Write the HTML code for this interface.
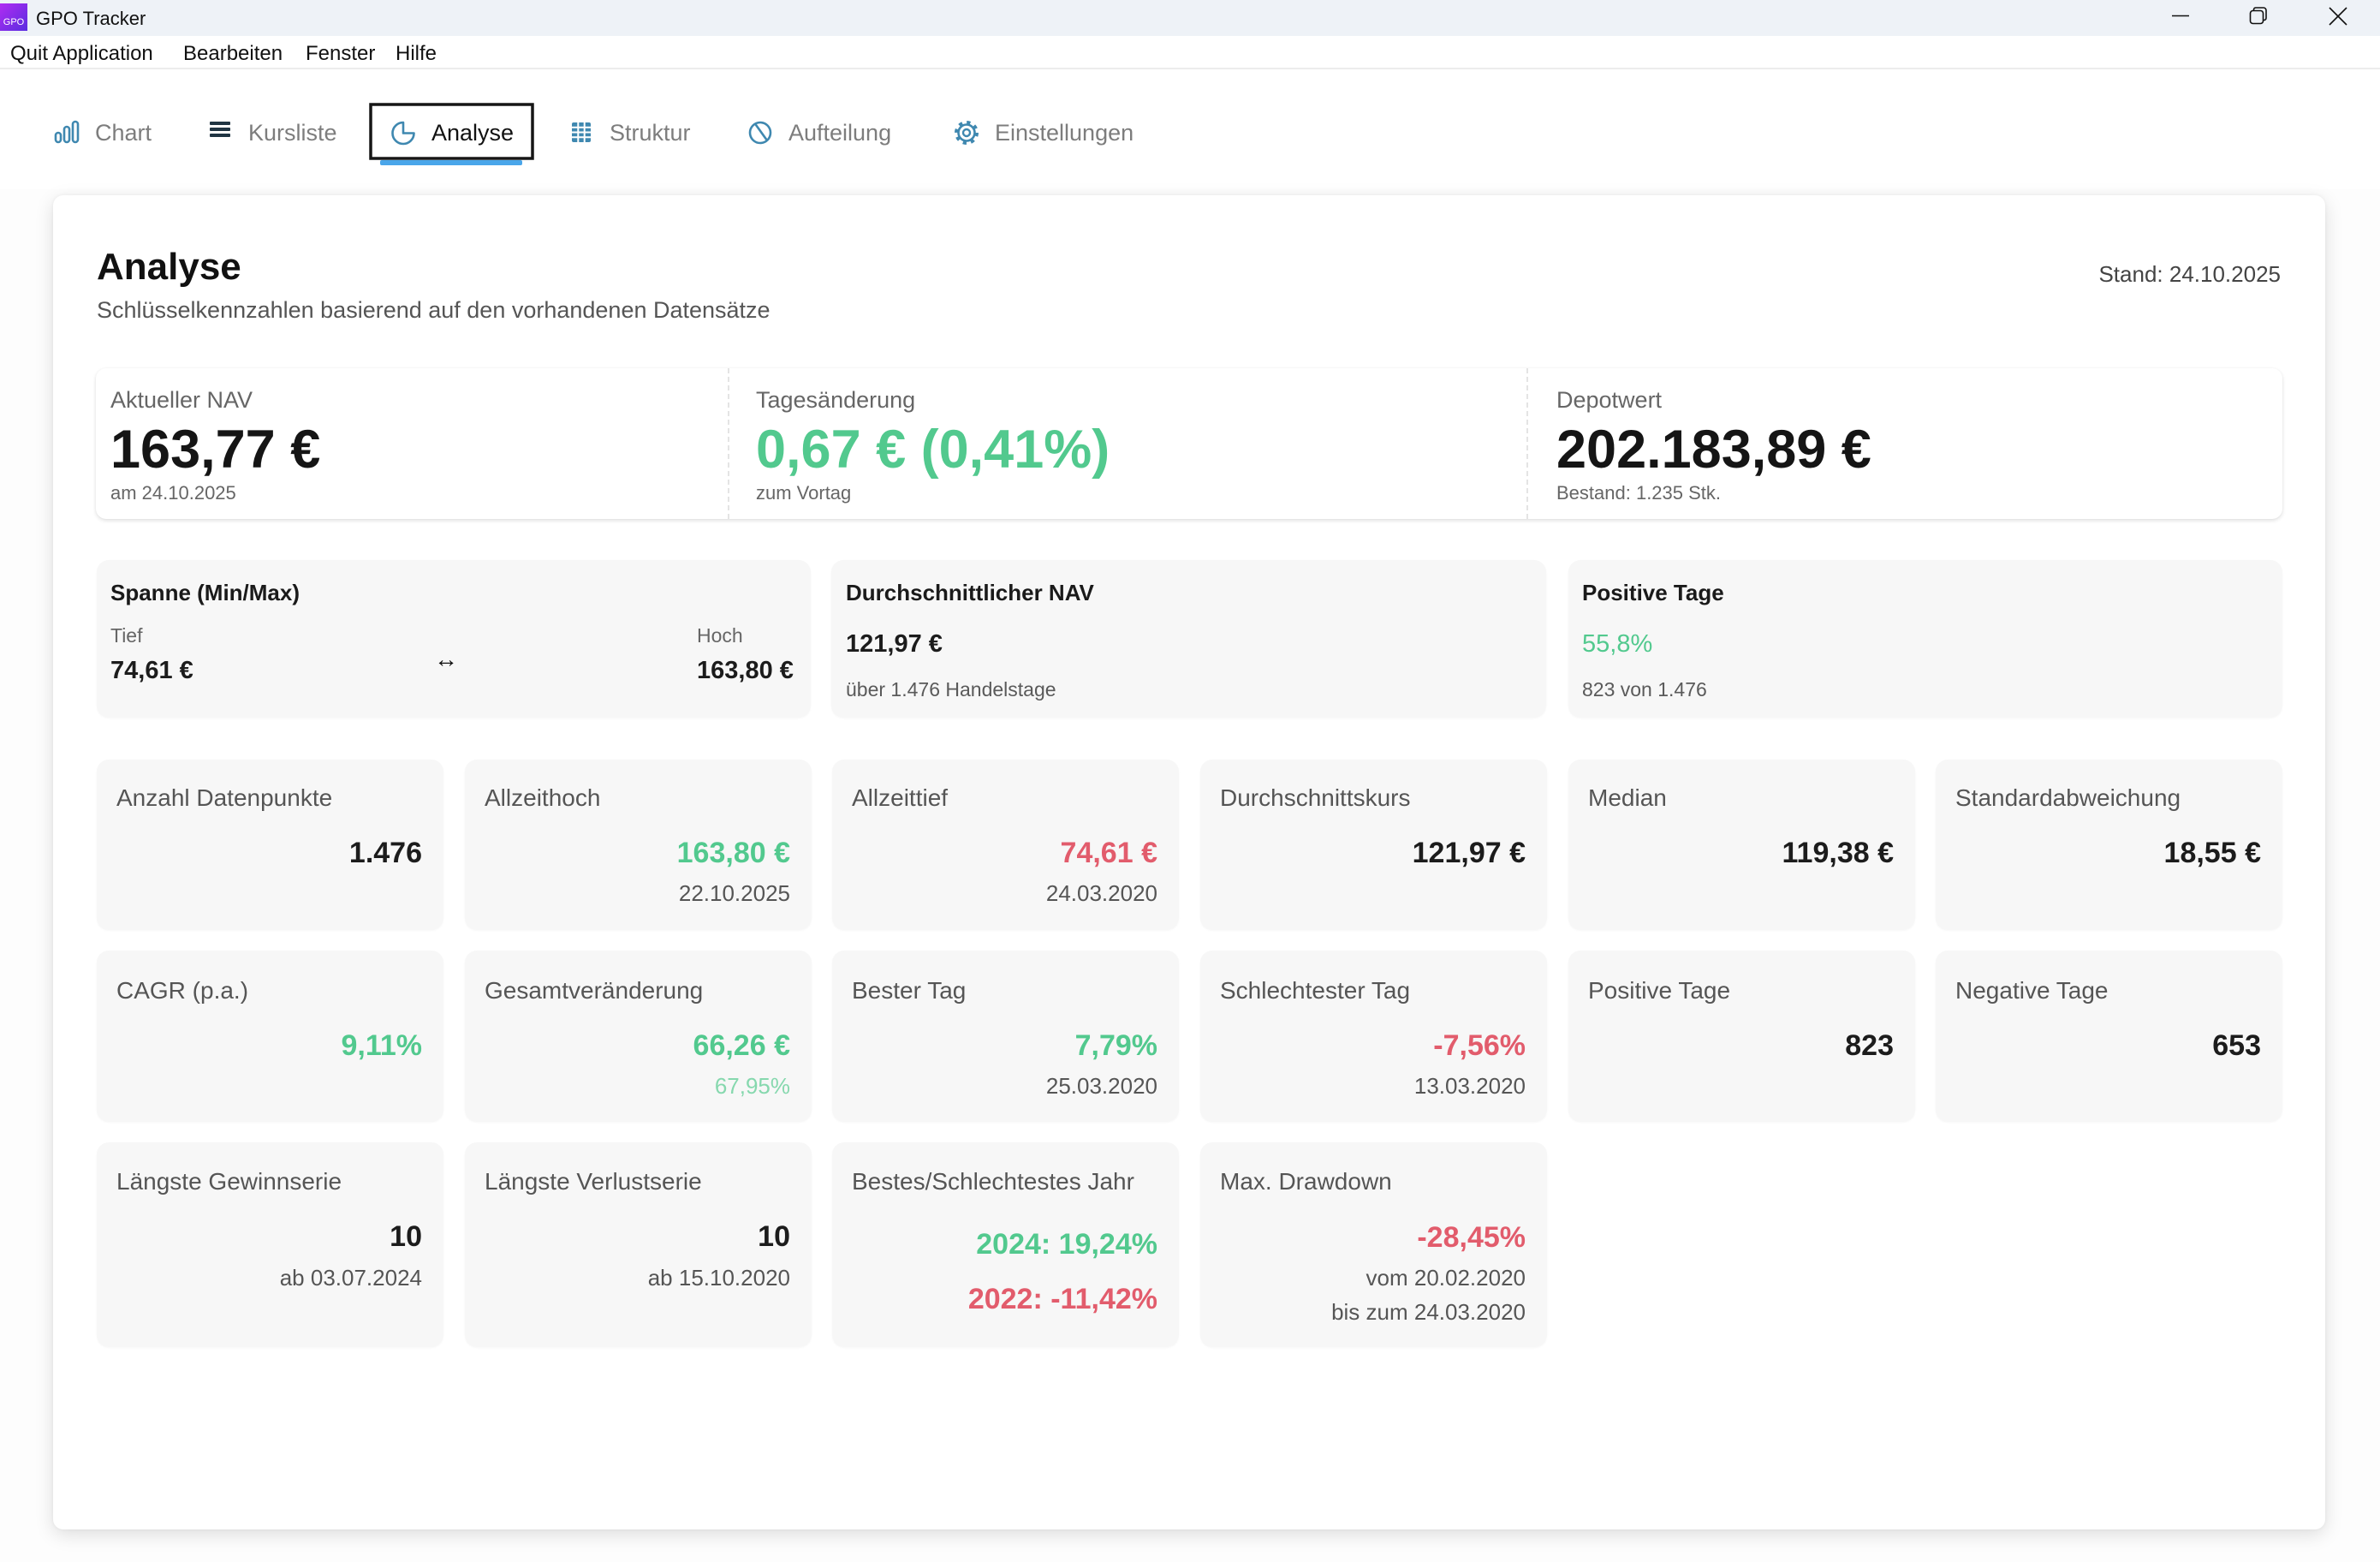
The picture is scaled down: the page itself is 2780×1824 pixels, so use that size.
<!DOCTYPE html>
<html>
<head>
<meta charset="utf-8">
<style>
  html,body{margin:0;padding:0;}
  body{width:2780px;height:1824px;position:relative;overflow:hidden;background:#fdfdfd;font-family:"Liberation Sans",sans-serif;color:#111;}
  .abs{position:absolute;white-space:nowrap;}
  #titlebar{position:absolute;left:0;top:0;width:2780px;height:42px;background:#eef2f7;}
  #menubar{position:absolute;left:0;top:42px;width:2780px;height:37px;background:#fff;border-bottom:2px solid #ececec;}
  #tabzone{position:absolute;left:0;top:81px;width:2780px;height:140px;background:#fff;}
  .menu{position:absolute;top:51px;font-size:24px;line-height:24px;color:#111;}
  .tab{position:absolute;top:142px;font-size:27px;line-height:27px;color:#7d7d7d;}
  #card{position:absolute;left:62px;top:228px;width:2654px;height:1558px;background:#fff;border-radius:12px;box-shadow:0 6px 22px rgba(0,0,0,0.13),0 0 4px rgba(0,0,0,0.05);}
  #kpi{position:absolute;left:112px;top:430px;width:2554px;height:176px;background:#fff;border-radius:12px;box-shadow:0 2px 5px rgba(0,0,0,0.12),0 0 2px rgba(0,0,0,0.04);}
  .div{position:absolute;top:430px;height:176px;width:0;border-left:2px dashed #e4e4e4;}
  .klab{position:absolute;font-size:27px;line-height:27px;color:#666;top:454px;}
  .kval{position:absolute;font-size:63px;line-height:63px;font-weight:bold;color:#151515;top:494px;}
  .ksub{position:absolute;font-size:22px;line-height:22px;color:#666;top:565px;}
  .big{position:absolute;top:654px;width:834px;height:184px;background:#f7f7f7;border-radius:14px;box-shadow:0 1px 2px rgba(0,0,0,0.03);}
  .bt{position:absolute;left:16px;top:25px;font-size:26px;line-height:26px;font-weight:bold;color:#1a1a1a;}
  .bs{position:absolute;font-size:23px;line-height:23px;color:#5a5a5a;}
  .bv{position:absolute;font-size:29px;line-height:29px;font-weight:bold;color:#1c1c1c;}
  .gc{position:absolute;width:405px;background:#f7f7f7;border-radius:14px;box-shadow:0 1px 2px rgba(0,0,0,0.03);}
  .gl{position:absolute;left:23px;top:31px;font-size:28px;line-height:28px;color:#555;white-space:nowrap;}
  .gv{position:absolute;right:25px;font-size:34px;line-height:34px;font-weight:bold;color:#1c1c1c;white-space:nowrap;}
  .gs{position:absolute;right:25px;font-size:26px;line-height:26px;color:#555;white-space:nowrap;}
  .g{color:#52c98e !important;}
  .lg{color:#86d8ae !important;}
  .r{color:#e25c6c !important;}
  .wc{position:absolute;}
</style>
</head>
<body>
<!-- Title bar -->
<div id="titlebar"></div>
<div class="abs" style="left:0;top:4px;width:32px;height:32px;background:linear-gradient(135deg,#b02cf2,#5a2de0);"></div>
<div class="abs" style="left:1px;top:20px;width:30px;font-size:11px;line-height:12px;color:#fff;text-align:center;">GPO</div>
<div class="abs" style="left:42px;top:11px;font-size:22px;line-height:22px;color:#111;">GPO Tracker</div>
<svg class="wc" style="left:2520px;top:0" width="240" height="42" viewBox="2520 0 240 42">
  <line x1="2537" y1="18.5" x2="2557" y2="18.5" stroke="#111" stroke-width="1.6"/>
  <rect x="2628.5" y="12.5" width="15" height="15" rx="3" fill="none" stroke="#111" stroke-width="1.6"/>
  <path d="M2632.5 12.5 V11 a2.5 2.5 0 0 1 2.5 -2 H2644 a3 3 0 0 1 3 3 V21 a2.5 2.5 0 0 1 -2.5 2.5 H2643.5" fill="none" stroke="#111" stroke-width="1.6"/>
  <line x1="2721" y1="9" x2="2741" y2="29" stroke="#111" stroke-width="1.6"/>
  <line x1="2741" y1="9" x2="2721" y2="29" stroke="#111" stroke-width="1.6"/>
</svg>

<!-- Menu bar -->
<div id="menubar"></div>
<div class="menu" style="left:12px;">Quit Application</div>
<div class="menu" style="left:214px;">Bearbeiten</div>
<div class="menu" style="left:357px;">Fenster</div>
<div class="menu" style="left:462px;">Hilfe</div>

<!-- Tabs -->
<div id="tabzone"></div>
<svg class="abs" style="left:0;top:100px" width="1400" height="110" viewBox="0 100 1400 110">
  <g fill="none" stroke="#3f88b0" stroke-width="2.6">
    <rect x="65" y="155" width="6" height="11" rx="3"/>
    <rect x="75" y="148" width="6" height="18" rx="3"/>
    <rect x="85" y="142" width="6" height="24" rx="3"/>
  </g>
  <g fill="#1f3442">
    <rect x="245" y="142" width="24" height="4" rx="1"/>
    <rect x="245" y="149" width="24" height="4" rx="1"/>
    <rect x="245" y="156" width="24" height="4" rx="1"/>
  </g>
  <path d="M471 143 A12.5 12.5 0 1 0 483.5 155.5 L471 155.5 Z" fill="none" stroke="#3f88b0" stroke-width="2.6" stroke-linejoin="round"/>
  <g fill="#3f88b0">
    <rect x="668" y="143" width="22" height="23" rx="2"/>
  </g>
  <g stroke="#fff" stroke-width="2">
    <line x1="675.3" y1="143" x2="675.3" y2="166"/>
    <line x1="682.7" y1="143" x2="682.7" y2="166"/>
    <line x1="668" y1="148.8" x2="690" y2="148.8"/>
    <line x1="668" y1="154.5" x2="690" y2="154.5"/>
    <line x1="668" y1="160.3" x2="690" y2="160.3"/>
  </g>
  <circle cx="888" cy="155" r="12" fill="none" stroke="#3f88b0" stroke-width="2.6"/>
  <line x1="882" y1="144.5" x2="896" y2="164" stroke="#3f88b0" stroke-width="2.6"/>
  <g fill="none" stroke="#3f88b0">
    <circle cx="1129" cy="155" r="9.5" stroke-width="2.6"/>
    <circle cx="1129" cy="155" r="12" stroke-width="4" stroke-dasharray="4.2 5.2"/>
    <circle cx="1129" cy="155" r="4" stroke-width="2.4"/>
  </g>
  <rect x="433" y="122" width="189" height="63" fill="none" stroke="#161616" stroke-width="3.5"/>
  <rect x="444" y="187" width="166" height="6" rx="2" fill="#4aa6ea"/>
</svg>
<div class="tab" style="left:111px;">Chart</div>
<div class="tab" style="left:290px;">Kursliste</div>
<div class="tab" style="left:504px;color:#111;">Analyse</div>
<div class="tab" style="left:712px;">Struktur</div>
<div class="tab" style="left:921px;">Aufteilung</div>
<div class="tab" style="left:1162px;">Einstellungen</div>

<!-- Main card -->
<div id="card"></div>
<div class="abs" style="left:113px;top:290px;font-size:44px;line-height:44px;font-weight:bold;color:#111;">Analyse</div>
<div class="abs" style="left:113px;top:349px;font-size:27px;line-height:27px;color:#555;">Schlüsselkennzahlen basierend auf den vorhandenen Datensätze</div>
<div class="abs" style="right:116px;top:307px;font-size:26px;line-height:26px;color:#444;">Stand: 24.10.2025</div>

<!-- KPI strip -->
<div id="kpi"></div>
<div class="div" style="left:850px;"></div>
<div class="div" style="left:1783px;"></div>
<div class="klab abs" style="left:129px;">Aktueller NAV</div>
<div class="kval abs" style="left:129px;">163,77 €</div>
<div class="ksub abs" style="left:129px;">am 24.10.2025</div>
<div class="klab abs" style="left:883px;">Tagesänderung</div>
<div class="kval abs g" style="left:883px;">0,67 € (0,41%)</div>
<div class="ksub abs" style="left:883px;">zum Vortag</div>
<div class="klab abs" style="left:1818px;">Depotwert</div>
<div class="kval abs" style="left:1818px;">202.183,89 €</div>
<div class="ksub abs" style="left:1818px;">Bestand: 1.235 Stk.</div>

<!-- Big cards -->
<div class="big" style="left:113px;">
  <div class="bt abs">Spanne (Min/Max)</div>
  <div class="bs abs" style="left:16px;top:77px;color:#666;">Tief</div>
  <div class="bv abs" style="left:16px;top:115px;">74,61 €</div>
  <div class="abs" style="left:394px;top:102px;font-size:28px;line-height:28px;color:#111;">↔</div>
  <div class="bs abs" style="left:701px;top:77px;color:#666;">Hoch</div>
  <div class="bv abs" style="left:701px;top:115px;">163,80 €</div>
</div>
<div class="big" style="left:971px;width:835px;">
  <div class="bt abs" style="left:17px;">Durchschnittlicher NAV</div>
  <div class="bv abs" style="left:17px;top:84px;">121,97 €</div>
  <div class="bs abs" style="left:17px;top:140px;">über 1.476 Handelstage</div>
</div>
<div class="big" style="left:1832px;">
  <div class="bt abs">Positive Tage</div>
  <div class="bv abs g" style="left:16px;top:84px;font-weight:normal;">55,8%</div>
  <div class="bs abs" style="left:16px;top:140px;">823 von 1.476</div>
</div>

<!-- Grid row 1 -->
<div class="gc" style="left:113px;top:887px;height:199px;">
  <div class="gl">Anzahl Datenpunkte</div>
  <div class="gv" style="top:92px;">1.476</div>
</div>
<div class="gc" style="left:543px;top:887px;height:199px;">
  <div class="gl">Allzeithoch</div>
  <div class="gv g" style="top:92px;">163,80 €</div>
  <div class="gs" style="top:143px;">22.10.2025</div>
</div>
<div class="gc" style="left:972px;top:887px;height:199px;">
  <div class="gl">Allzeittief</div>
  <div class="gv r" style="top:92px;">74,61 €</div>
  <div class="gs" style="top:143px;">24.03.2020</div>
</div>
<div class="gc" style="left:1402px;top:887px;height:199px;">
  <div class="gl">Durchschnittskurs</div>
  <div class="gv" style="top:92px;">121,97 €</div>
</div>
<div class="gc" style="left:1832px;top:887px;height:199px;">
  <div class="gl">Median</div>
  <div class="gv" style="top:92px;">119,38 €</div>
</div>
<div class="gc" style="left:2261px;top:887px;height:199px;">
  <div class="gl">Standardabweichung</div>
  <div class="gv" style="top:92px;">18,55 €</div>
</div>

<!-- Grid row 2 -->
<div class="gc" style="left:113px;top:1110px;height:200px;">
  <div class="gl" style="top:33px;">CAGR (p.a.)</div>
  <div class="gv g" style="top:94px;">9,11%</div>
</div>
<div class="gc" style="left:543px;top:1110px;height:200px;">
  <div class="gl" style="top:33px;">Gesamtveränderung</div>
  <div class="gv g" style="top:94px;">66,26 €</div>
  <div class="gs lg" style="top:145px;">67,95%</div>
</div>
<div class="gc" style="left:972px;top:1110px;height:200px;">
  <div class="gl" style="top:33px;">Bester Tag</div>
  <div class="gv g" style="top:94px;">7,79%</div>
  <div class="gs" style="top:145px;">25.03.2020</div>
</div>
<div class="gc" style="left:1402px;top:1110px;height:200px;">
  <div class="gl" style="top:33px;">Schlechtester Tag</div>
  <div class="gv r" style="top:94px;">-7,56%</div>
  <div class="gs" style="top:145px;">13.03.2020</div>
</div>
<div class="gc" style="left:1832px;top:1110px;height:200px;">
  <div class="gl" style="top:33px;">Positive Tage</div>
  <div class="gv" style="top:94px;">823</div>
</div>
<div class="gc" style="left:2261px;top:1110px;height:200px;">
  <div class="gl" style="top:33px;">Negative Tage</div>
  <div class="gv" style="top:94px;">653</div>
</div>

<!-- Grid row 3 -->
<div class="gc" style="left:113px;top:1334px;height:239px;">
  <div class="gl" style="top:32px;">Längste Gewinnserie</div>
  <div class="gv" style="top:93px;">10</div>
  <div class="gs" style="top:145px;">ab 03.07.2024</div>
</div>
<div class="gc" style="left:543px;top:1334px;height:239px;">
  <div class="gl" style="top:32px;">Längste Verlustserie</div>
  <div class="gv" style="top:93px;">10</div>
  <div class="gs" style="top:145px;">ab 15.10.2020</div>
</div>
<div class="gc" style="left:972px;top:1334px;height:239px;">
  <div class="gl" style="top:32px;">Bestes/Schlechtestes Jahr</div>
  <div class="gv g" style="top:102px;">2024: 19,24%</div>
  <div class="gv r" style="top:166px;">2022: -11,42%</div>
</div>
<div class="gc" style="left:1402px;top:1334px;height:239px;">
  <div class="gl" style="top:32px;">Max. Drawdown</div>
  <div class="gv r" style="top:94px;">-28,45%</div>
  <div class="gs" style="top:145px;">vom 20.02.2020</div>
  <div class="gs" style="top:185px;">bis zum 24.03.2020</div>
</div>
</body>
</html>
